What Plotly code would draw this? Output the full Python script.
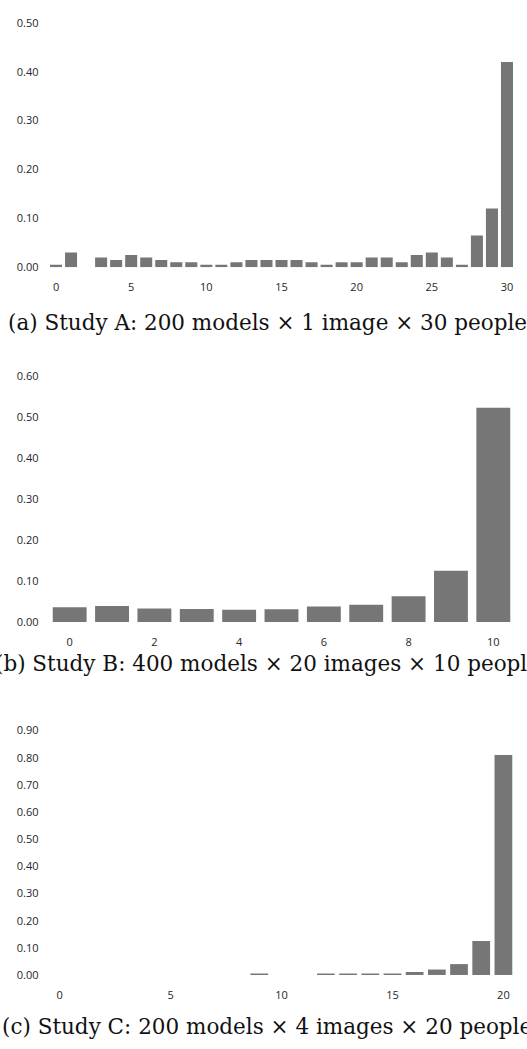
import plotly.graph_objects as go

# ---------------- data ----------------
a_x = list(range(0, 31))
a_vals = [0.005, 0.030, 0.000, 0.020, 0.015, 0.025, 0.020, 0.015, 0.010, 0.010,
          0.005, 0.005, 0.010, 0.015, 0.015, 0.015, 0.015, 0.010, 0.005, 0.010,
          0.010, 0.020, 0.020, 0.010, 0.025, 0.030, 0.020, 0.005, 0.065, 0.120,
          0.420]
a_yticks = [0.0, 0.1, 0.2, 0.3, 0.4, 0.5]
a_xticks = [0, 5, 10, 15, 20, 25, 30]

b_x = list(range(0, 11))
b_vals = [0.036, 0.039, 0.033, 0.032, 0.030, 0.031, 0.038, 0.042, 0.063, 0.125, 0.522]
b_yticks = [0.0, 0.1, 0.2, 0.3, 0.4, 0.5, 0.6]
b_xticks = [0, 2, 4, 6, 8, 10]

c_x = list(range(0, 21))
c_vals = [0, 0, 0, 0, 0, 0, 0, 0, 0, 0.003, 0, 0, 0.003, 0.004, 0.004, 0.005,
          0.011, 0.020, 0.040, 0.125, 0.810]
c_yticks = [0.0, 0.1, 0.2, 0.3, 0.4, 0.5, 0.6, 0.7, 0.8, 0.9]
c_xticks = [0, 5, 10, 15, 20]

captions = [
    "(a) Study A: 200 models \u00d7 1 image \u00d7 30 people",
    "(b) Study B: 400 models \u00d7 20 images \u00d7 10 people",
    "(c) Study C: 200 models \u00d7 4 images \u00d7 20 people",
]

# ---------------- layout helpers ----------------
W, H = 527, 1049
BAR = "#767676"
TXT = "#262626"
TICKFONT = dict(family="Open Sans", size=11, color=TXT)

def py(px):
    return 1 - px / H

xdom = [48.5 / W, 514.5 / W]
panels = [
    (a_x, a_vals, a_yticks, a_xticks, [-0.5, 30.5], [0, 0.5], (15, 263), 319),
    (b_x, b_vals, b_yticks, b_xticks, [-0.5, 10.5], [0, 0.6], (373, 623), 665),
    (c_x, c_vals, c_yticks, c_xticks, [-0.5, 20.5], [0, 0.9], (733, 981), 1033),
]

fig = go.Figure()
layout = dict(
    width=W, height=H,
    margin=dict(l=0, r=0, t=0, b=0),
    paper_bgcolor="white", plot_bgcolor="white",
    showlegend=False, bargap=0.2,
    annotations=[],
)

for i, (xs, vals, yt, xt, xr, yr, (top, bot), cap_y) in enumerate(panels):
    n = "" if i == 0 else str(i + 1)
    fig.add_trace(go.Bar(
        x=xs, y=vals, xaxis="x" + n, yaxis="y" + n,
        marker=dict(color=BAR, line=dict(width=0)),
        hoverinfo="x+y",
    ))
    layout["xaxis" + n] = dict(
        domain=xdom, anchor="y" + n, range=xr,
        tickvals=xt, ticktext=[str(v) for v in xt],
        showgrid=False, zeroline=False, showline=False, ticks="",
        tickfont=TICKFONT, ticklabelstandoff=12, fixedrange=True,
    )
    layout["yaxis" + n] = dict(
        domain=[py(bot), py(top)], anchor="x" + n, range=yr,
        tickvals=yt, ticktext=["%.2f" % v for v in yt],
        showgrid=False, zeroline=False, showline=False, ticks="",
        tickfont=TICKFONT, ticklabelstandoff=9, fixedrange=True,
    )
    layout["annotations"].append(dict(
        text=captions[i], xref="paper", yref="paper",
        x=267 / W, y=py(cap_y), xanchor="center", yanchor="middle",
        showarrow=False,
        font=dict(family="DejaVu Serif", size=21.5, color="#111111"),
    ))

fig.update_layout(**layout)
fig.write_html(
    "out.html",
    config={"displayModeBar": False},
    post_script="document.body.style.margin='0';"
                "document.documentElement.style.overflow='hidden';"
                "document.body.style.overflow='hidden';",
)
